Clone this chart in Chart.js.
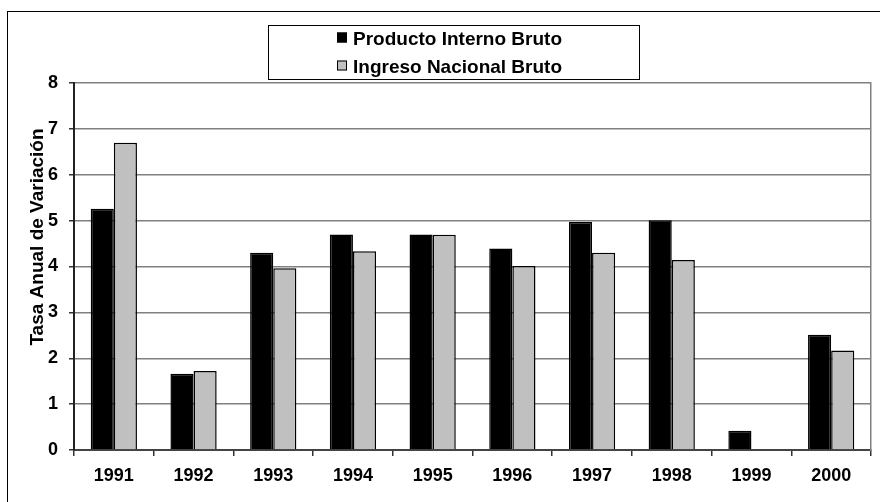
<!DOCTYPE html>
<html>
<head>
<meta charset="utf-8">
<script src="https://cdn.jsdelivr.net/npm/chart.js@4.4.1/dist/chart.umd.min.js"></script>
<style>
  html, body { margin: 0; padding: 0; background: #fff; overflow: hidden; }
  #wrap { position: relative; width: 880px; height: 502px; }
  #frame {
    position: absolute; left: 7px; top: 11px; width: 900px; height: 600px;
    border-left: 1.5px solid #000; border-top: 1.5px solid #000;
    pointer-events: none;
  }
</style>
</head>
<body>
<div id="wrap">
  <canvas id="myChart" width="880" height="502"></canvas>
  <div id="frame"></div>
</div>
<script>
// data
const years = ['1991', '1992', '1993', '1994', '1995', '1996', '1997', '1998', '1999', '2000'];
const pib = [5.26, 1.66, 4.30, 4.70, 4.70, 4.39, 4.97, 5.01, 0.42, 2.51];
const inb = [6.70, 1.72, 3.96, 4.33, 4.69, 4.01, 4.30, 4.14, null, 2.17];
const seriesNames = ['Producto Interno Bruto', 'Ingreso Nacional Bruto'];
const yTitle = 'Tasa Anual de Variación';

const FONT = "'Liberation Sans', Arial, sans-serif";

// legend in a box, one item per line
const boxLegend = {
    id: 'boxLegend',
    afterDraw(chart) {
        const ctx = chart.ctx;
        ctx.save();
        ctx.fillStyle = '#fff';
        ctx.fillRect(268, 25, 372, 55);
        ctx.strokeStyle = '#000';
        ctx.lineWidth = 1;
        ctx.strokeRect(268.5, 25.5, 371, 54);
        ctx.font = 'bold 19px ' + FONT;
        ctx.textBaseline = 'alphabetic';
        ctx.textAlign = 'left';
        const baselines = [45, 73];
        chart.data.datasets.forEach((ds, i) => {
            const b = baselines[i];
            ctx.fillStyle = ds.backgroundColor;
            ctx.fillRect(337, b - 12.5, 10, 10);
            ctx.strokeStyle = '#000';
            ctx.lineWidth = 1;
            ctx.strokeRect(337.5, b - 12, 9, 9);
            ctx.fillStyle = '#000';
            ctx.fillText(ds.label, 353, b);
        });
        ctx.restore();
    }
};

// rotated y axis title, sits a bit above the axis middle
const yAxisTitle = {
    id: 'yAxisTitle',
    afterDraw(chart) {
        const ctx = chart.ctx;
        ctx.save();
        ctx.translate(43, 237);
        ctx.rotate(-Math.PI / 2);
        ctx.font = 'bold 19px ' + FONT;
        ctx.fillStyle = '#000';
        ctx.textAlign = 'center';
        ctx.textBaseline = 'alphabetic';
        ctx.fillText(yTitle, 0, 0);
        ctx.restore();
    }
};

const ctx = document.getElementById('myChart').getContext('2d');
const myChart = new Chart(ctx, {
    type: 'bar',
    data: {
        labels: years,
        datasets: [{
            label: seriesNames[0],
            data: pib,
            backgroundColor: '#000000',
            borderColor: '#000000',
            borderWidth: 1.5
        }, {
            label: seriesNames[1],
            data: inb,
            backgroundColor: '#c0c0c0',
            borderColor: '#000000',
            borderWidth: 1.5
        }]
    },
    options: {
        responsive: false,
        animation: false,
        categoryPercentage: 0.58,
        barPercentage: 1.0,
        layout: { autoPadding: false, padding: { top: 83, right: 0, bottom: 0, left: 0 } },
        plugins: {
            legend: { display: false },
            tooltip: { enabled: false }
        },
        scales: {
            x: {
                offset: true,
                grid: { display: true, drawOnChartArea: false, tickLength: 6, color: '#333', lineWidth: 1.5 },
                border: { display: true, color: '#444', width: 2 },
                ticks: { color: '#000', padding: 9, font: { family: FONT, size: 18, weight: 'bold' } },
                afterFit: scale => { scale.height = 52; }
            },
            y: {
                min: 0,
                max: 8,
                ticks: { stepSize: 1, color: '#000', padding: 11, font: { family: FONT, size: 18, weight: 'bold' } },
                grid: { color: '#808080', lineWidth: 1.5, tickLength: 5, tickColor: '#333' },
                border: { display: true, color: '#222', width: 2 },
                afterFit: scale => { scale.width = 74; }
            },
            y2: {
                position: 'right',
                min: 0,
                max: 8,
                ticks: { display: false },
                grid: { display: false, drawTicks: false },
                border: { display: true, color: '#808080', width: 1.5 },
                afterFit: scale => { scale.width = 9; }
            }
        }
    },
    plugins: [boxLegend, yAxisTitle]
});
</script>
</body>
</html>
